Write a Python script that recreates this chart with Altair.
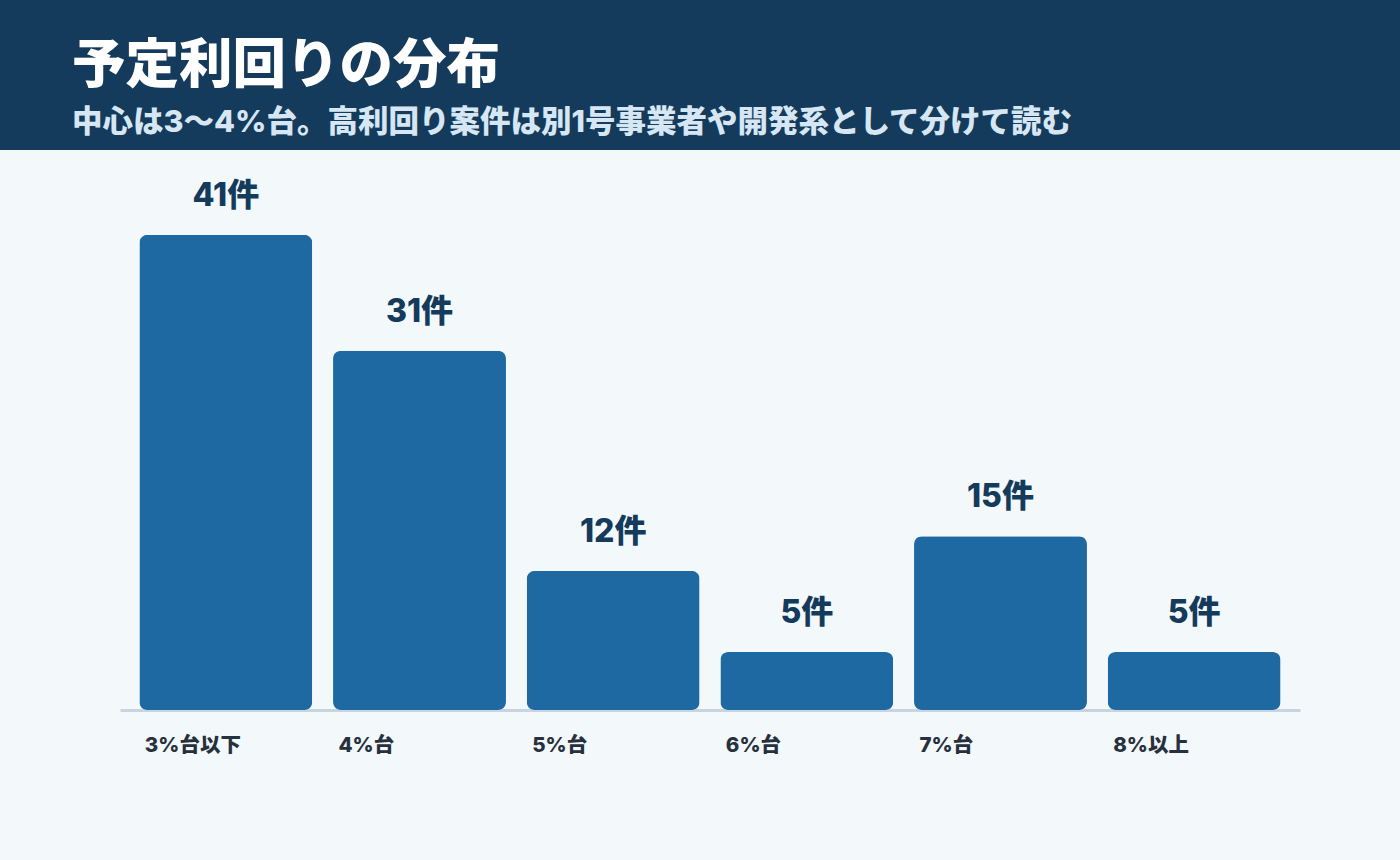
import altair as alt
import pandas as pd

categories = ["3%台以下", "4%台", "5%台", "6%台", "7%台", "8%以上"]
counts = [41, 31, 12, 5, 15, 5]
value_labels = ["41件", "31件", "12件", "5件", "15件", "5件"]
title_text = "予定利回りの分布"
subtitle_text = "中心は3〜4%台。高利回り案件は別1号事業者や開発系として分けて読む"

FONT = "Inter, 'Noto Sans CJK JP', sans-serif"

df = pd.DataFrame({"cat": categories, "n": counts, "label": value_labels})
one = pd.DataFrame({"k": [0]})

x_enc = alt.X(
    "cat:N",
    sort=categories,
    scale=alt.Scale(paddingInner=0.107, paddingOuter=0.1),
    axis=alt.Axis(
        title=None,
        ticks=False,
        grid=False,
        domain=True,
        domainColor="#c8d5e0",
        domainWidth=3,
        labelAngle=0,
        labelAlign="left",
        labelOffset=-81,
        labelPadding=25,
        labelFont=FONT,
        labelFontSize=20.5,
        labelFontWeight=800,
        labelColor="#27313d",
    ),
)
y_scale = alt.Scale(domain=[0, 46.6], nice=False, zero=True)

bars = alt.Chart(df).mark_bar(cornerRadius=8, color="#1f69a3").encode(
    x=x_enc,
    y=alt.Y("n:Q", scale=y_scale, axis=None),
)

labels = alt.Chart(df).mark_text(
    font=FONT, fontSize=32, fontWeight=800, color="#143a5c",
    baseline="alphabetic", dy=-29,
).encode(
    x=alt.X("cat:N", sort=categories),
    y=alt.Y("n:Q", scale=y_scale),
    text="label:N",
)

header = alt.Chart(one).mark_rect(color="#143a5c").encode(
    x=alt.value(-120), x2=alt.value(1280),
    y=alt.value(-170), y2=alt.value(-20),
)

title = alt.Chart(one).mark_text(
    font=FONT, fontSize=53.5, fontWeight=800, color="#ffffff",
    align="left", baseline="middle",
).encode(x=alt.value(-48), y=alt.value(-103), text=alt.value(title_text))

subtitle = alt.Chart(one).mark_text(
    font=FONT, fontSize=30.5, fontWeight=800, color="#d6e6f3",
    align="left", baseline="middle",
).encode(x=alt.value(-48), y=alt.value(-47), text=alt.value(subtitle_text))

chart = alt.layer(header, title, subtitle, bars, labels).properties(
    width=1180,
    height=540,
    background="#f3f8fb",
    padding={"left": 120, "top": 170, "right": 100, "bottom": 150},
    autosize=alt.AutoSizeParams(type="none"),
).configure_view(stroke=None)

chart.save("out.html", embed_options={"renderer": "svg", "actions": False})
